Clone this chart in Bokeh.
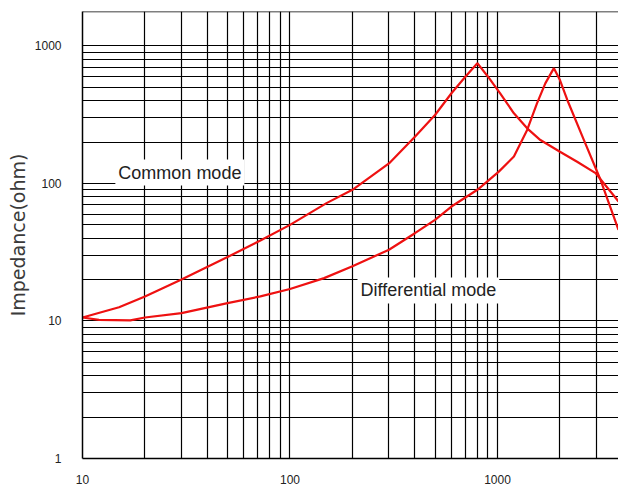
from bokeh.plotting import figure
from bokeh.models import FixedTicker, Label, Span
from bokeh.embed import file_html
from bokeh.resources import INLINE

# ---- data ----
common_f = [10, 15, 20, 30, 50, 72, 100, 150, 200, 300, 400, 500, 600, 700, 800, 900, 1030, 1200, 1390, 1610, 2000, 2420, 2970, 3830]
common_z = [10.6, 12.6, 15.1, 20, 29.2, 38.5, 50, 72, 90, 140, 219, 315, 453, 598, 750, 598, 453, 324, 252, 207, 170, 144, 119, 74]

diff_f = [10, 12, 17, 20, 30, 50, 72, 100, 146, 200, 300, 400, 500, 600, 800, 1015, 1200, 1390, 1550, 1700, 1870, 2000, 2170, 2610, 3140, 3830]
diff_z = [10.6, 10.2, 10.1, 10.6, 11.4, 13.5, 15.1, 17.1, 20.5, 25, 33, 43.5, 54.4, 68, 90, 122, 157, 245, 383, 535, 690, 565, 405, 207, 106, 46]

x_tick_values = [10, 100, 1000]
x_tick_labels = ["10", "100", "1000"]
y_tick_values = [1, 10, 100, 1000]
y_tick_labels = ["1", "10", "100", "1000"]

label_common = "Common mode"
label_diff = "Differential mode"
y_title = "Impedance(ohm)"

X_START, X_END = 10, 3830
Y_START, Y_END = 1, 1782

# grid positions: 1..9 x each decade
xgrid = [m * 10 ** k for k in range(1, 4) for m in range(1, 10) if X_START < m * 10 ** k < X_END]
ygrid = [m * 10 ** k for k in range(0, 4) for m in range(1, 10) if Y_START < m * 10 ** k < Y_END]

p = figure(width=618, height=486, x_axis_type="log", y_axis_type="log",
           x_range=(X_START, X_END), y_range=(Y_START, Y_END),
           output_backend="svg", toolbar_location=None,
           min_border_left=82, min_border_right=0, min_border_top=11, min_border_bottom=27)
p.outline_line_color = None
p.background_fill_color = "white"
p.border_fill_color = "white"

# grid
p.xgrid.ticker = FixedTicker(ticks=xgrid)
p.ygrid.ticker = FixedTicker(ticks=ygrid)
for g in (p.xgrid, p.ygrid):
    g.grid_line_color = "black"
    g.grid_line_width = 1.2
    g.grid_line_alpha = 1.0
    g.minor_grid_line_color = None

p.add_layout(Span(location=Y_END, dimension="width", line_color="black", line_width=1.5))

# axes
p.xaxis.ticker = FixedTicker(ticks=x_tick_values)
p.yaxis.ticker = FixedTicker(ticks=y_tick_values)
p.xaxis.major_label_overrides = {v: s for v, s in zip(x_tick_values, x_tick_labels)}
p.yaxis.major_label_overrides = {v: s for v, s in zip(y_tick_values, y_tick_labels)}
for ax in (p.xaxis, p.yaxis):
    ax.major_tick_line_color = None
    ax.minor_tick_line_color = None
    ax.axis_line_color = "black"
    ax.axis_line_width = 1.5
    ax.major_label_text_font = "Liberation Sans"
    ax.major_label_text_font_size = "12px"
    ax.major_label_text_color = "#222222"
p.yaxis.major_label_standoff = 15
p.xaxis.major_label_standoff = 10
p.yaxis.axis_label = y_title
p.yaxis.axis_label_text_font = "DejaVu Sans"
p.yaxis.axis_label_text_font_size = "19px"
p.yaxis.axis_label_text_font_style = "normal"
p.yaxis.axis_label_text_color = "#3a3a3a"
p.yaxis.axis_label_standoff = 3

# curves
p.line(common_f, common_z, line_color="#ee1111", line_width=2.2)
p.line(diff_f, diff_z, line_color="#ee1111", line_width=2.2)

# labels with white background
p.add_layout(Label(x=14.4, y=120, text=label_common, text_align="left", text_baseline="middle",
                   text_font="Liberation Sans", text_font_size="18px", text_color="#222222",
                   background_fill_color="white", padding=3))
p.add_layout(Label(x=211.5, y=16.7, text=label_diff, text_align="left", text_baseline="middle",
                   text_font="Liberation Sans", text_font_size="18px", text_color="#222222",
                   background_fill_color="white", padding=3))

open("out.html", "w").write(file_html(p, INLINE))
